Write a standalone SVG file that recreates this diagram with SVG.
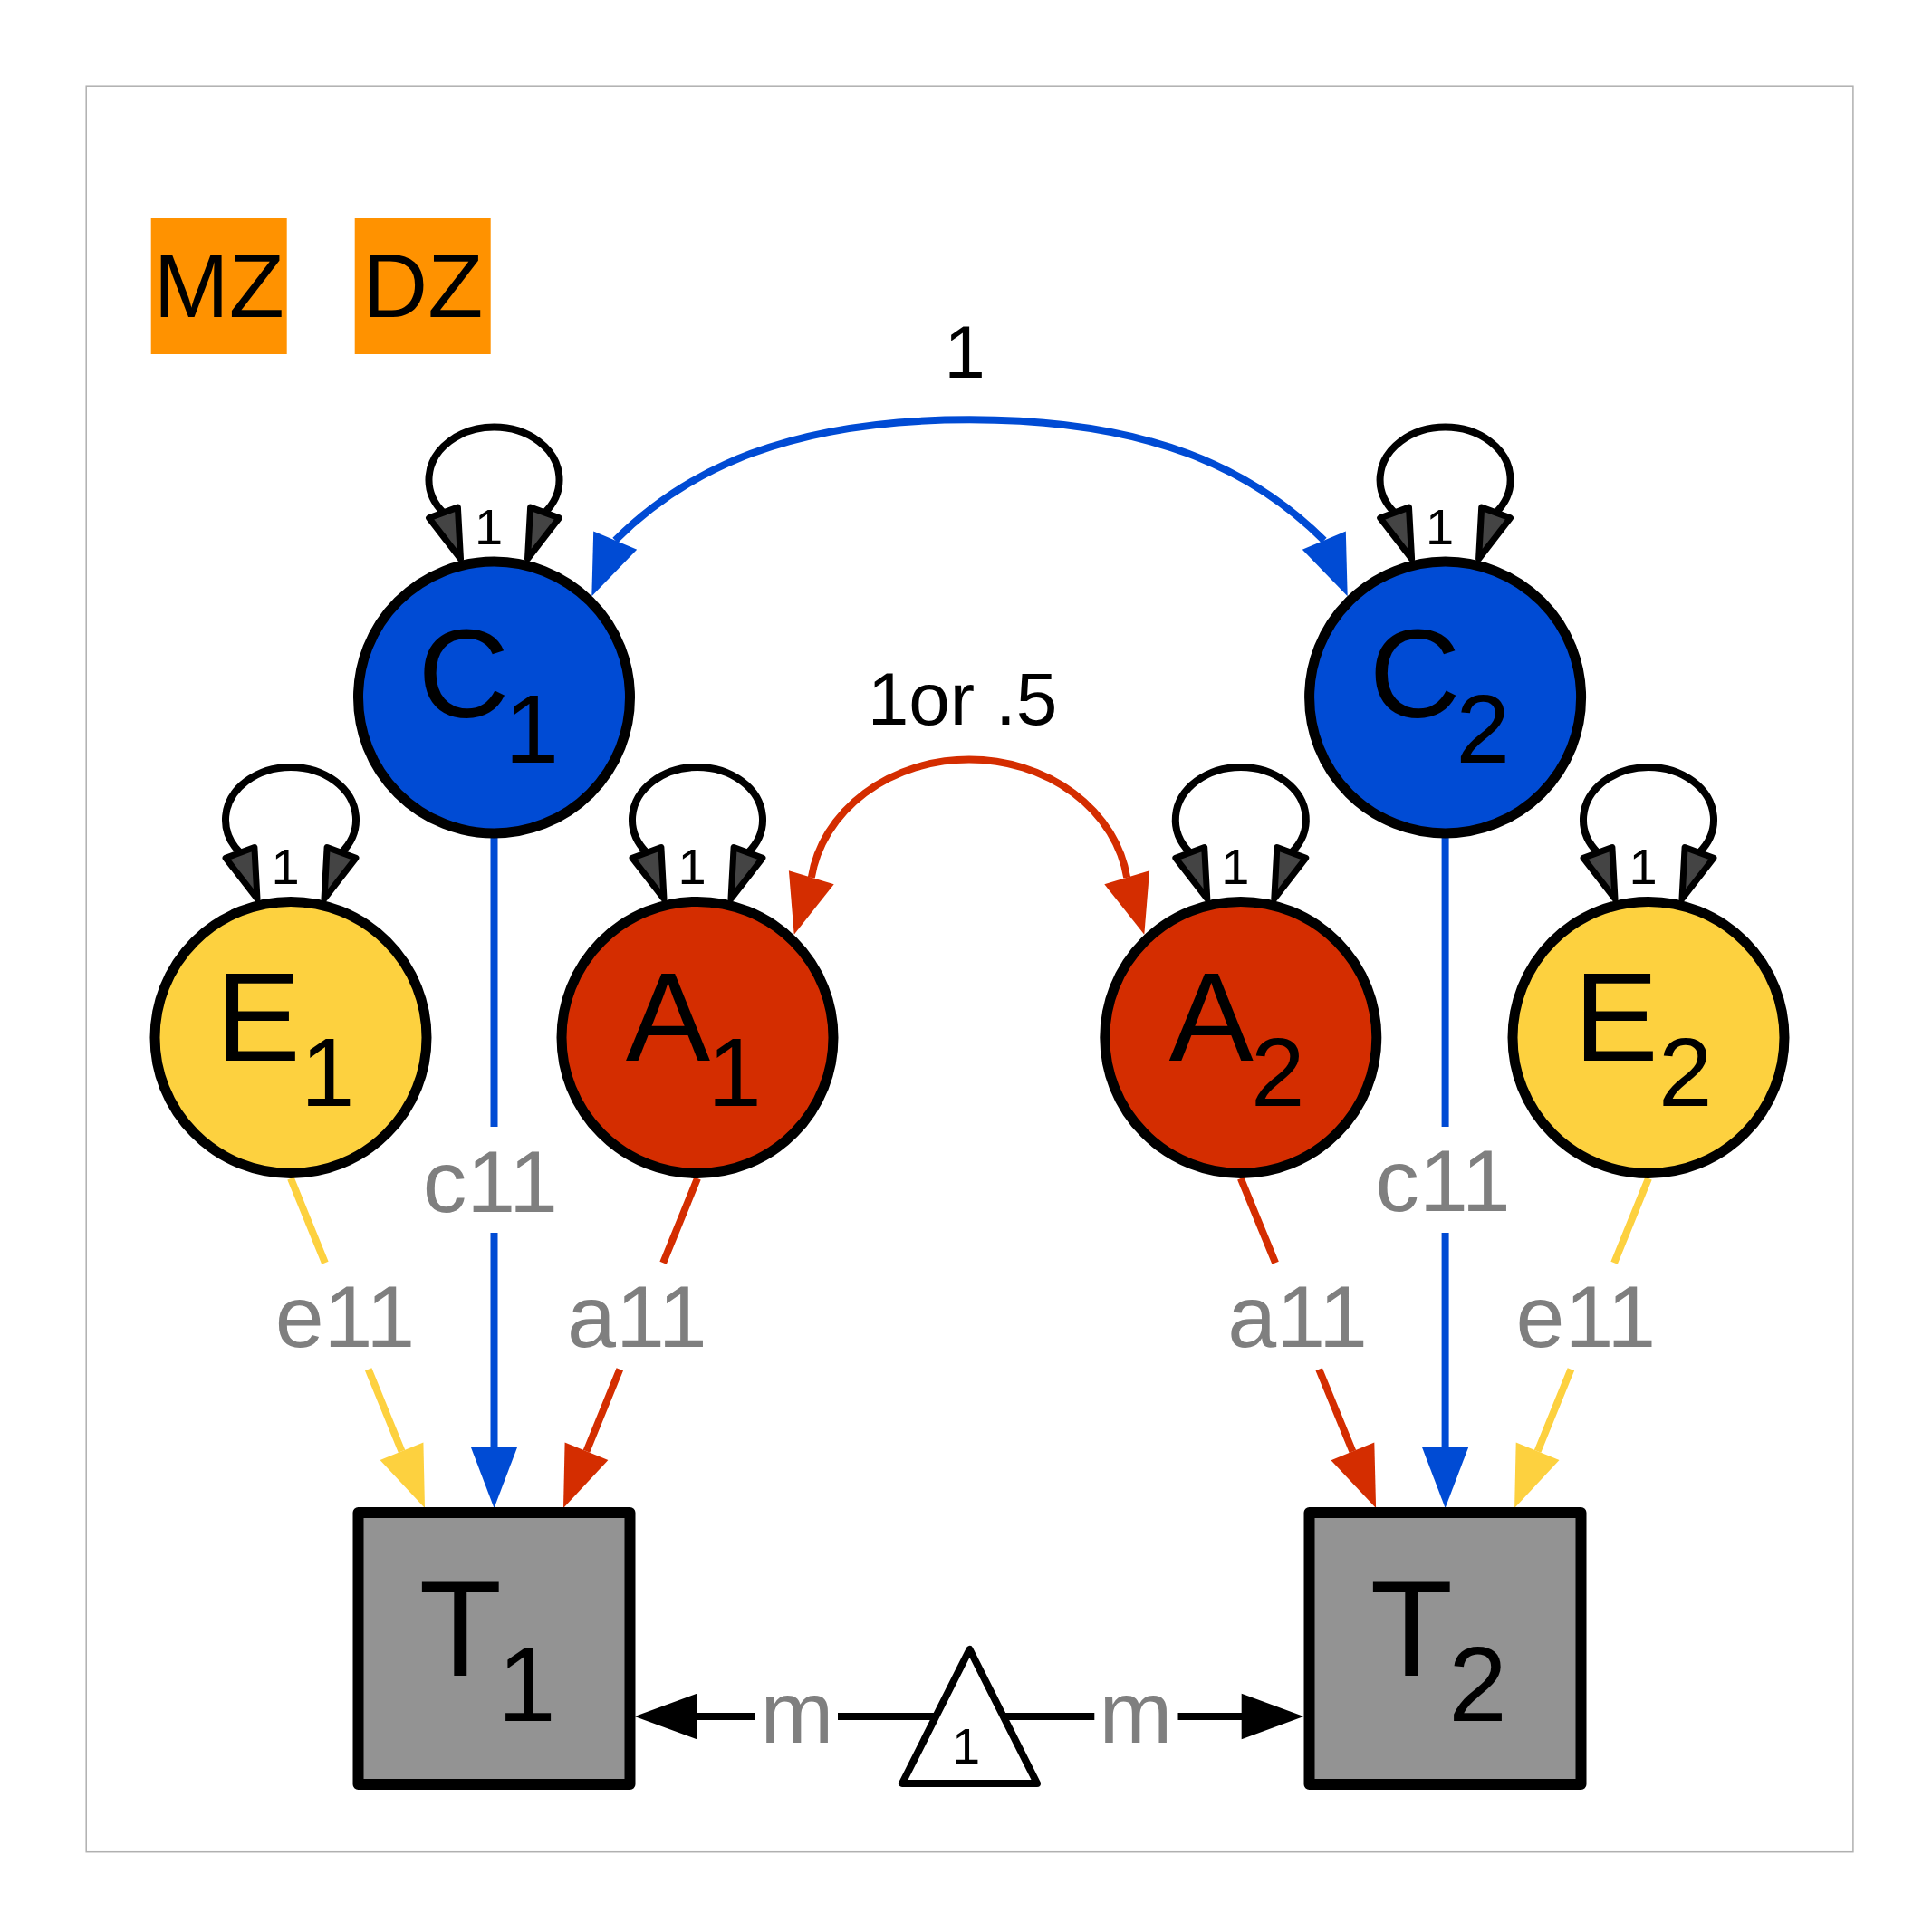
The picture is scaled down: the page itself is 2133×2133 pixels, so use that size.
<svg xmlns="http://www.w3.org/2000/svg" xmlns:xlink="http://www.w3.org/1999/xlink" width="2133" height="2133" viewBox="0 0 2133 2133">
<style>
text{font-family:"Liberation Sans",Arial,Helvetica,sans-serif}
.lat{stroke:#000;stroke-width:11}
.C{fill:#004bd4}.A{fill:#d42d00}.E{fill:#fdd13f}
.obs{fill:#939393;stroke:#000;stroke-width:12;stroke-linejoin:round}
.big{font-size:140px;fill:#000}
.sub{font-size:107px}
.tbig{font-size:150px;fill:#000}
.tsub{font-size:116px}
.plab{font-size:97px;fill:#7f7f7f;text-anchor:middle}
.num{font-size:82px;fill:#000;text-anchor:middle}
.conn{fill:none;stroke-width:8;stroke-linecap:butt}
.blue{stroke:#004bd4}.red{stroke:#d42d00}.yel{stroke:#fdd13f}.blk{stroke:#000}
.hb{fill:#004bd4}.hr{fill:#d42d00}.hy{fill:#fdd13f}.hk{fill:#000}
.vhead{fill:#444;stroke:#000;stroke-width:7;stroke-linejoin:round}
.grp{fill:#ff9200}
.grpt{font-size:100px;fill:#000;text-anchor:middle}
</style>
<defs>
<g id="loop">
<path d="M -56 -204 A 72 58 0 1 1 56 -204" fill="none" stroke="#000" stroke-width="8"/>
<polygon class="vhead" points="-37,-153 -71.9,-198.1 -40.1,-209.9"/>
<polygon class="vhead" points="37,-153 71.9,-198.1 40.1,-209.9"/>
<text x="-6" y="-169" font-size="56" text-anchor="middle" fill="#000">1</text>
</g>
</defs>
<rect x="95.2" y="95.2" width="1950.7" height="1949.5" fill="none" stroke="#b0b0b0" stroke-width="1.5"/>
<g id="MZ"><rect class="grp" x="166.7" y="241" width="150" height="150"/><text class="grpt" x="241.7" y="350">MZ</text></g>
<g id="DZ"><rect class="grp" x="391.7" y="241" width="150" height="150"/><text class="grpt" x="466.7" y="350">DZ</text></g>
<g id="connectors">
<use xlink:href="#loop" href="#loop" x="545.5" y="770"/>
<use xlink:href="#loop" href="#loop" x="1595.6" y="770"/>
<use xlink:href="#loop" href="#loop" x="321" y="1145.4"/>
<use xlink:href="#loop" href="#loop" x="770" y="1145.4"/>
<use xlink:href="#loop" href="#loop" x="1369.8" y="1145.4"/>
<use xlink:href="#loop" href="#loop" x="1820" y="1145.4"/>
<path class="conn blue" d="M 679.2 596.7 C 757 518.9 870.5 463.3 1070.5 463.3 C 1270.5 463.3 1384 518.9 1461.8 596.7"/>
<polygon class="hb" points="653.3,658.3 703.2,606.8 655.2,586.6"/>
<polygon class="hb" points="1487.7,658.3 1437.8,606.8 1485.8,586.6"/>
<text class="num" x="1065" y="417">1</text>
<path class="conn red" d="M 895.8 968.8 A 176 152 0 0 1 1244.2 968.8"/>
<polygon class="hr" points="876.7,1031.7 920.7,976.3 870.9,961.3"/>
<polygon class="hr" points="1263.3,1031.7 1219.3,976.3 1269.1,961.3"/>
<text class="num" x="1062.5" y="800">1or .5</text>
<path class="conn blue" d="M 545.5 925 V 1244 M 545.5 1361 V 1598"/>
<polygon class="hb" points="545.5,1665 519.7,1597.3 571.3,1597.3"/>
<text class="plab" x="541.4" y="1338">c11</text>
<path class="conn yel" d="M 321 1301 L 358.9 1394.3 M 406.7 1511.7 L 443.5 1602.3"/>
<polygon class="hy" points="469,1665 467.4,1592.6 419.6,1612"/>
<text class="plab" x="381" y="1487">e11</text>
<path class="conn red" d="M 770 1301 L 732.1 1394.3 M 684.3 1511.7 L 647.5 1602.3"/>
<polygon class="hr" points="622,1665 623.6,1592.6 671.4,1612"/>
<text class="plab" x="703.4" y="1487">a11</text>
<path class="conn blue" d="M 1595.6 925 V 1244 M 1595.6 1361 V 1598"/>
<polygon class="hb" points="1595.6,1665 1569.8,1597.3 1621.4,1597.3"/>
<text class="plab" x="1593" y="1337">c11</text>
<path class="conn red" d="M 1369.8 1301 L 1408.1 1394.3 M 1456.2 1511.7 L 1493.4 1602.4"/>
<polygon class="hr" points="1519.1,1665 1517.3,1592.6 1469.5,1612.2"/>
<text class="plab" x="1432.6" y="1487">a11</text>
<path class="conn yel" d="M 1820 1301 L 1782.1 1394.3 M 1734.4 1511.7 L 1697.6 1602.3"/>
<polygon class="hy" points="1672.1,1665 1721.5,1612 1673.7,1592.6"/>
<text class="plab" x="1750.9" y="1487">e11</text>
<path class="conn blk" d="M 769 1895 H 833.3 M 925 1895 H 1050 M 1090 1895 H 1208.3 M 1300.5 1895 H 1371"/>
<polygon class="hk" points="700.7,1895 769.3,1869.7 769.3,1920.3"/>
<polygon class="hk" points="1439.3,1895 1370.7,1869.7 1370.7,1920.3"/>
<text class="plab" x="880" y="1924" font-size="100">m</text>
<text class="plab" x="1254" y="1924" font-size="100">m</text>
</g>
<g id="C1"><circle class="lat C" cx="545.5" cy="770" r="150"/><text class="big" x="461.3" y="792">C<tspan class="sub" dx="-5" dy="50">1</tspan></text></g>
<g id="C2"><circle class="lat C" cx="1595.6" cy="770" r="150"/><text class="big" x="1511.4" y="792">C<tspan class="sub" dx="-5" dy="50">2</tspan></text></g>
<g id="E1"><circle class="lat E" cx="321" cy="1145.4" r="150"/><text class="big" x="238.5" y="1170.5">E<tspan class="sub" dy="50">1</tspan></text></g>
<g id="A1"><circle class="lat A" cx="770" cy="1145.4" r="150"/><text class="big" x="690.8" y="1170.5">A<tspan class="sub" dx="-3" dy="50">1</tspan></text></g>
<g id="A2"><circle class="lat A" cx="1369.8" cy="1145.4" r="150"/><text class="big" x="1290.6" y="1170.5">A<tspan class="sub" dx="-3" dy="50">2</tspan></text></g>
<g id="E2"><circle class="lat E" cx="1820" cy="1145.4" r="150"/><text class="big" x="1737.5" y="1170.5">E<tspan class="sub" dy="50">2</tspan></text></g>
<g id="T1"><rect class="obs" x="395.5" y="1670" width="300" height="300"/><text class="tbig" x="462.5" y="1850">T<tspan class="tsub" dx="-5" dy="50">1</tspan></text></g>
<g id="T2"><rect class="obs" x="1445.5" y="1670" width="300" height="300"/><text class="tbig" x="1512.6" y="1850">T<tspan class="tsub" dx="-5" dy="50">2</tspan></text></g>
<g id="one"><polygon points="1070.5,1821 996,1969 1145,1969" fill="#fff" stroke="#000" stroke-width="8" stroke-linejoin="round"/><text x="1066.5" y="1946.7" font-size="56" text-anchor="middle" fill="#000">1</text></g>
</svg>
